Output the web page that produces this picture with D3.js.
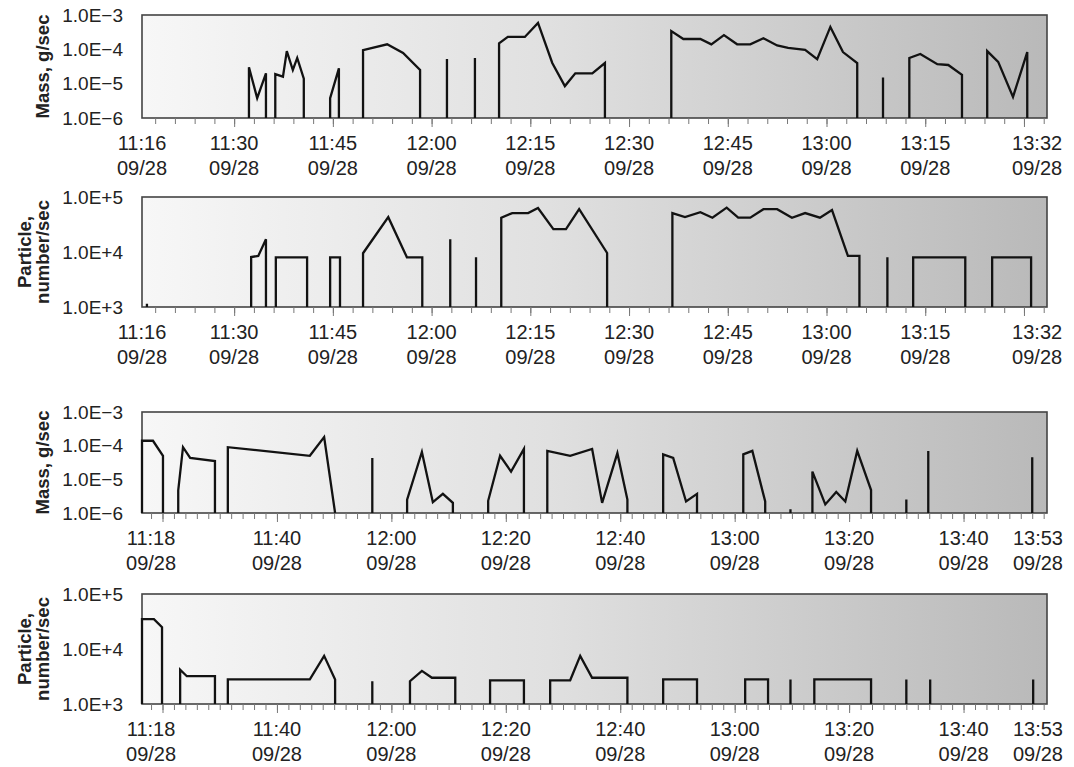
<!DOCTYPE html>
<html lang="en">
<head>
<meta charset="UTF-8">
<title>Mass and particle emission, 09/28</title>
<script src="https://cdn.jsdelivr.net/npm/d3@7"></script>
<style>
    body { margin: 0; background: #fff; }
    svg { display: block; font-family: 'Liberation Sans', Arial, Helvetica, sans-serif; }
    .ylab text { font-size: 19px; fill: #222; }
    .xlab { font-size: 20px; fill: #222; }
    .title { font-size: 18.5px; font-weight: bold; fill: #222; }
    .frame { fill: url(#bg); stroke: #444; stroke-width: 1.6; }
    .trace { fill: none; stroke: #121212; stroke-width: 2.3; stroke-linejoin: miter; }
    .xticks line { stroke: #777; }
</style>
</head>
<body>
<script>
    var width = 1074, height = 767;
    var parseTime = d3.timeParse("%H:%M:%S");
    var parseHM = d3.timeParse("%H:%M");

    // x tick labels
    const topTickLabels = ["11:16", "11:30", "11:45", "12:00", "12:15", "12:30", "12:45", "13:00", "13:15", "13:32"];
    const bottomTickLabels = ["11:18", "11:40", "12:00", "12:20", "12:40", "13:00", "13:20", "13:40", "13:53"];
    const tickDate = "09/28";

    // y tick labels
    const massTickValues = [1e-6, 1e-5, 1e-4, 1e-3];
    const massTickLabels = ["1.0E\u22126", "1.0E\u22125", "1.0E\u22124", "1.0E\u22123"];
    const particleTickValues = [1e3, 1e4, 1e5];
    const particleTickLabels = ["1.0E+3", "1.0E+4", "1.0E+5"];

    // null = trace goes back down to the floor
    const mass1Times = [
        "11:32:15", "11:33:30", "11:34:50", null,
        "11:36:15", "11:37:25", "11:38:00", "11:38:55", "11:39:35", "11:40:35", null,
        "11:44:35", "11:45:55", null,
        "11:49:35", "11:53:15", "11:55:40", "11:58:15", null,
        "12:02:20", null,
        "12:06:35", null,
        "12:10:15", "12:11:35", "12:14:10", "12:16:10", "12:18:20", "12:20:15", "12:21:50", "12:24:25", "12:26:20", null,
        "12:36:25", "12:38:15", "12:40:50", "12:42:30", "12:44:25", "12:46:25", "12:48:25", "12:50:25", "12:52:30",
        "12:54:10", "12:56:45", "12:58:35", "13:00:35", "13:02:30", "13:04:40", null,
        "13:08:35", null,
        "13:12:35", "13:14:15", "13:16:50", "13:18:30", "13:20:35", null,
        "13:24:25", "13:26:05", "13:28:20", "13:30:30"
    ];
    const mass1Values = [
        3.0e-5, 3.8e-6, 2.0e-5, null,
        1.9e-5, 1.6e-5, 8.9e-5, 2.5e-5, 5.6e-5, 1.4e-5, null,
        3.8e-6, 2.8e-5, null,
        9.5e-5, 1.4e-4, 7.8e-5, 2.5e-5, null,
        5.2e-5, null,
        5.6e-5, null,
        1.5e-4, 2.3e-4, 2.3e-4, 5.9e-4, 4.0e-5, 8.5e-6, 2.0e-5, 2.0e-5, 4.0e-5, null,
        3.4e-4, 2.0e-4, 2.0e-4, 1.4e-4, 2.6e-4, 1.4e-4, 1.4e-4, 2.1e-4, 1.3e-4,
        1.1e-4, 9.6e-5, 5.2e-5, 4.5e-4, 8.3e-5, 4.0e-5, null,
        1.5e-5, null,
        5.6e-5, 7.3e-5, 3.7e-5, 3.5e-5, 1.8e-5, null,
        8.9e-5, 4.3e-5, 4.1e-6, 8.3e-5
    ];

    const particle1Times = [
        "11:16:45", null,
        "11:32:35", "11:33:40", "11:34:50", null,
        "11:36:20", "11:41:05", null,
        "11:44:35", "11:46:05", null,
        "11:49:35", "11:53:25", "11:56:15", "11:58:35", null,
        "12:02:50", null,
        "12:06:45", null,
        "12:10:35", "12:12:15", "12:14:40", "12:16:10", "12:18:30", "12:20:25", "12:22:25", "12:26:40", null,
        "12:36:35", "12:38:30", "12:40:50", "12:42:40", "12:44:50", "12:46:35", "12:48:25", "12:50:25",
        "12:52:30", "12:54:45", "12:56:45", "12:59:00", "13:00:50", "13:03:15", "13:05:00", null,
        "13:09:15", null,
        "13:13:10", "13:21:05", null,
        "13:25:10", "13:31:05"
    ];
    const particle1Values = [
        1.15e3, null,
        8.1e3, 8.5e3, 1.7e4, null,
        8e3, 8e3, null,
        8e3, 8e3, null,
        9.5e3, 4.3e4, 8e3, 8e3, null,
        1.7e4, null,
        8e3, null,
        4.2e4, 5.1e4, 5.1e4, 6.3e4, 2.6e4, 2.6e4, 6e4, 9.6e3, null,
        5.1e4, 4.3e4, 5.3e4, 4.2e4, 6.4e4, 4.2e4, 4.2e4, 6e4,
        6e4, 4.2e4, 5.1e4, 4.2e4, 5.8e4, 8.5e3, 8.5e3, null,
        8e3, null,
        8e3, 8e3, null,
        8e3, 8e3
    ];

    const mass2Times = [
        "11:16:25", "11:18:20", "11:20:05", null,
        "11:22:45", "11:23:35", "11:24:50", "11:29:10", null,
        "11:31:25", "11:45:45", "11:48:15", "11:50:10", null,
        "11:56:40", null,
        "12:02:45", "12:05:20", "12:07:15", "12:09:00", "12:10:45", null,
        "12:16:55", "12:19:00", "12:20:55", "12:23:10", null,
        "12:27:15", "12:31:15", "12:35:05", "12:36:50", "12:39:30", "12:41:15", null,
        "12:47:30", "12:49:15", "12:51:30", "12:53:25", null,
        "13:01:30", "13:03:05", "13:05:20", null,
        "13:09:45", null,
        "13:13:35", "13:15:50", "13:17:45", "13:19:20", "13:21:25", "13:23:50", null,
        "13:30:00", null,
        "13:33:50", null,
        "13:52:00"
    ];
    const mass2Values = [
        1.4e-4, 1.4e-4, 5e-5, null,
        4.7e-6, 9e-5, 4.3e-5, 3.5e-5, null,
        9e-5, 5e-5, 1.8e-4, 1e-6, null,
        4.3e-5, null,
        2.5e-6, 6.5e-5, 2.1e-6, 3.7e-6, 2e-6, null,
        2.3e-6, 5e-5, 1.7e-5, 8e-5, null,
        7e-5, 5e-5, 8e-5, 2e-6, 6e-5, 2.5e-6, null,
        5.5e-5, 4.3e-5, 2.2e-6, 3.7e-6, null,
        5.5e-5, 7e-5, 2.2e-6, null,
        1.3e-6, null,
        1.7e-5, 1.8e-6, 4.2e-6, 2.2e-6, 7e-5, 4.8e-6, null,
        2.5e-6, null,
        7e-5, null,
        4.5e-5
    ];

    const particle2Times = [
        "11:16:25", "11:18:30", "11:19:55", null,
        "11:23:05", "11:24:15", "11:29:10", null,
        "11:31:25", "11:45:45", "11:48:15", "11:50:10", null,
        "11:56:40", null,
        "12:03:15", "12:05:20", "12:07:05", "12:11:10", null,
        "12:17:15", "12:23:10", null,
        "12:27:45", "12:31:15", "12:33:00", "12:35:05", "12:41:15", null,
        "12:47:30", "12:53:25", null,
        "13:01:50", "13:05:50", null,
        "13:09:45", null,
        "13:13:55", "13:23:50", null,
        "13:30:00", null,
        "13:34:10", null,
        "13:52:10"
    ];
    const particle2Values = [
        3.5e4, 3.5e4, 2.5e4, null,
        4.2e3, 3.2e3, 3.2e3, null,
        2.8e3, 2.8e3, 7.5e3, 2.8e3, null,
        2.6e3, null,
        2.6e3, 4e3, 3e3, 3e3, null,
        2.7e3, 2.7e3, null,
        2.7e3, 2.7e3, 7.5e3, 3e3, 3e3, null,
        2.8e3, 2.8e3, null,
        2.8e3, 2.8e3, null,
        2.8e3, null,
        2.8e3, 2.8e3, null,
        2.8e3, null,
        2.8e3, null,
        2.8e3
    ];

    var svg = d3.select("body").append("svg")
        .attr("width", width)
        .attr("height", height);

    // plot background: light on the left, grey on the right
    var grad = svg.append("defs").append("linearGradient")
        .attr("id", "bg").attr("x1", 0).attr("x2", 1).attr("y1", 0).attr("y2", 0);
    grad.append("stop").attr("offset", "0%").attr("stop-color", "#f7f7f7");
    grad.append("stop").attr("offset", "45%").attr("stop-color", "#e0e0e0");
    grad.append("stop").attr("offset", "100%").attr("stop-color", "#b9b9b9");

    var left = 142, right = 1047;

    var xTop = d3.scaleTime()
        .domain([parseTime("11:16:00"), parseTime("13:33:30")])
        .range([left, right]);
    var xBottom = d3.scaleTime()
        .domain([parseTime("11:16:25"), parseTime("13:54:35")])
        .range([left, right]);

    function runs(times, values) {
        var out = [], cur = [];
        times.forEach(function (t, i) {
            if (t === null) {
                if (cur.length) out.push(cur);
                cur = [];
            } else {
                cur.push({ t: parseTime(t), v: values[i] });
            }
        });
        if (cur.length) out.push(cur);
        return out;
    }

    function drawPanel(p) {
        var g = svg.append("g");
        var y = d3.scaleLog().domain(p.yDomain).range([p.bottom, p.top]);
        var x = p.x;
        var floor = p.yDomain[0];

        g.append("rect").attr("class", "frame")
            .attr("x", left).attr("y", p.top)
            .attr("width", right - left).attr("height", p.bottom - p.top);

        // minor and major ticks below the plot
        g.append("g").attr("class", "xticks")
            .attr("transform", "translate(0," + p.bottom + ")")
            .call(d3.axisBottom(x).ticks(d3.timeMinute.every(p.minorStep)).tickSize(6).tickFormat(""))
            .call(s => s.select(".domain").remove());
        g.append("g").attr("class", "xticks")
            .attr("transform", "translate(0," + p.bottom + ")")
            .call(d3.axisBottom(x).ticks(d3.timeMinute.every(p.majorStep)).tickSize(9).tickFormat(""))
            .call(s => s.select(".domain").remove());

        // two-line time labels
        var lab = g.selectAll("text.xlab").data(p.labels).join("text")
            .attr("class", "xlab")
            .attr("text-anchor", "middle")
            .attr("x", d => x(parseHM(d)));
        lab.append("tspan").attr("y", p.bottom + 32).attr("x", d => x(parseHM(d))).text(d => d);
        lab.append("tspan").attr("y", p.bottom + 57).attr("x", d => x(parseHM(d))).text(tickDate);

        // y labels
        g.append("g").attr("class", "ylab")
            .attr("transform", "translate(" + left + ",0)")
            .call(d3.axisLeft(y).tickValues(p.yTicks).tickFormat((d, i) => p.yLabels[i]).tickSize(0).tickPadding(19))
            .call(s => s.select(".domain").remove());

        // axis title, rotated
        var cy = (p.top + p.bottom) / 2;
        p.title.forEach(function (line, i) {
            var cx = p.titleX[i];
            g.append("text").attr("class", "title")
                .attr("text-anchor", "middle")
                .attr("transform", "translate(" + cx + "," + cy + ") rotate(-90)")
                .attr("dy", "0.35em")
                .text(line);
        });

        // the trace
        var line = d3.line().x(d => x(d.t)).y(d => y(d.v)).curve(d3.curveLinear);
        runs(p.times, p.values).forEach(function (r) {
            var pts = [{ t: r[0].t, v: floor }].concat(r, [{ t: r[r.length - 1].t, v: floor }]);
            g.append("path").attr("class", "trace").attr("d", line(pts));
        });
    }

    drawPanel({
        top: 15, bottom: 118, x: xTop, minorStep: 3, majorStep: 15, labels: topTickLabels,
        yDomain: [1e-6, 1e-3], yTicks: massTickValues, yLabels: massTickLabels,
        title: ["Mass, g/sec"], titleX: [43],
        times: mass1Times, values: mass1Values
    });
    drawPanel({
        top: 197, bottom: 307, x: xTop, minorStep: 3, majorStep: 15, labels: topTickLabels,
        yDomain: [1e3, 1e5], yTicks: particleTickValues, yLabels: particleTickLabels,
        title: ["Particle,", "number/sec"], titleX: [25, 43],
        times: particle1Times, values: particle1Values
    });
    drawPanel({
        top: 412, bottom: 513, x: xBottom, minorStep: 2, majorStep: 20, labels: bottomTickLabels,
        yDomain: [1e-6, 1e-3], yTicks: massTickValues, yLabels: massTickLabels,
        title: ["Mass, g/sec"], titleX: [43],
        times: mass2Times, values: mass2Values
    });
    drawPanel({
        top: 594, bottom: 704, x: xBottom, minorStep: 2, majorStep: 20, labels: bottomTickLabels,
        yDomain: [1e3, 1e5], yTicks: particleTickValues, yLabels: particleTickLabels,
        title: ["Particle,", "number/sec"], titleX: [25, 43],
        times: particle2Times, values: particle2Values
    });
</script>
</body>
</html>
